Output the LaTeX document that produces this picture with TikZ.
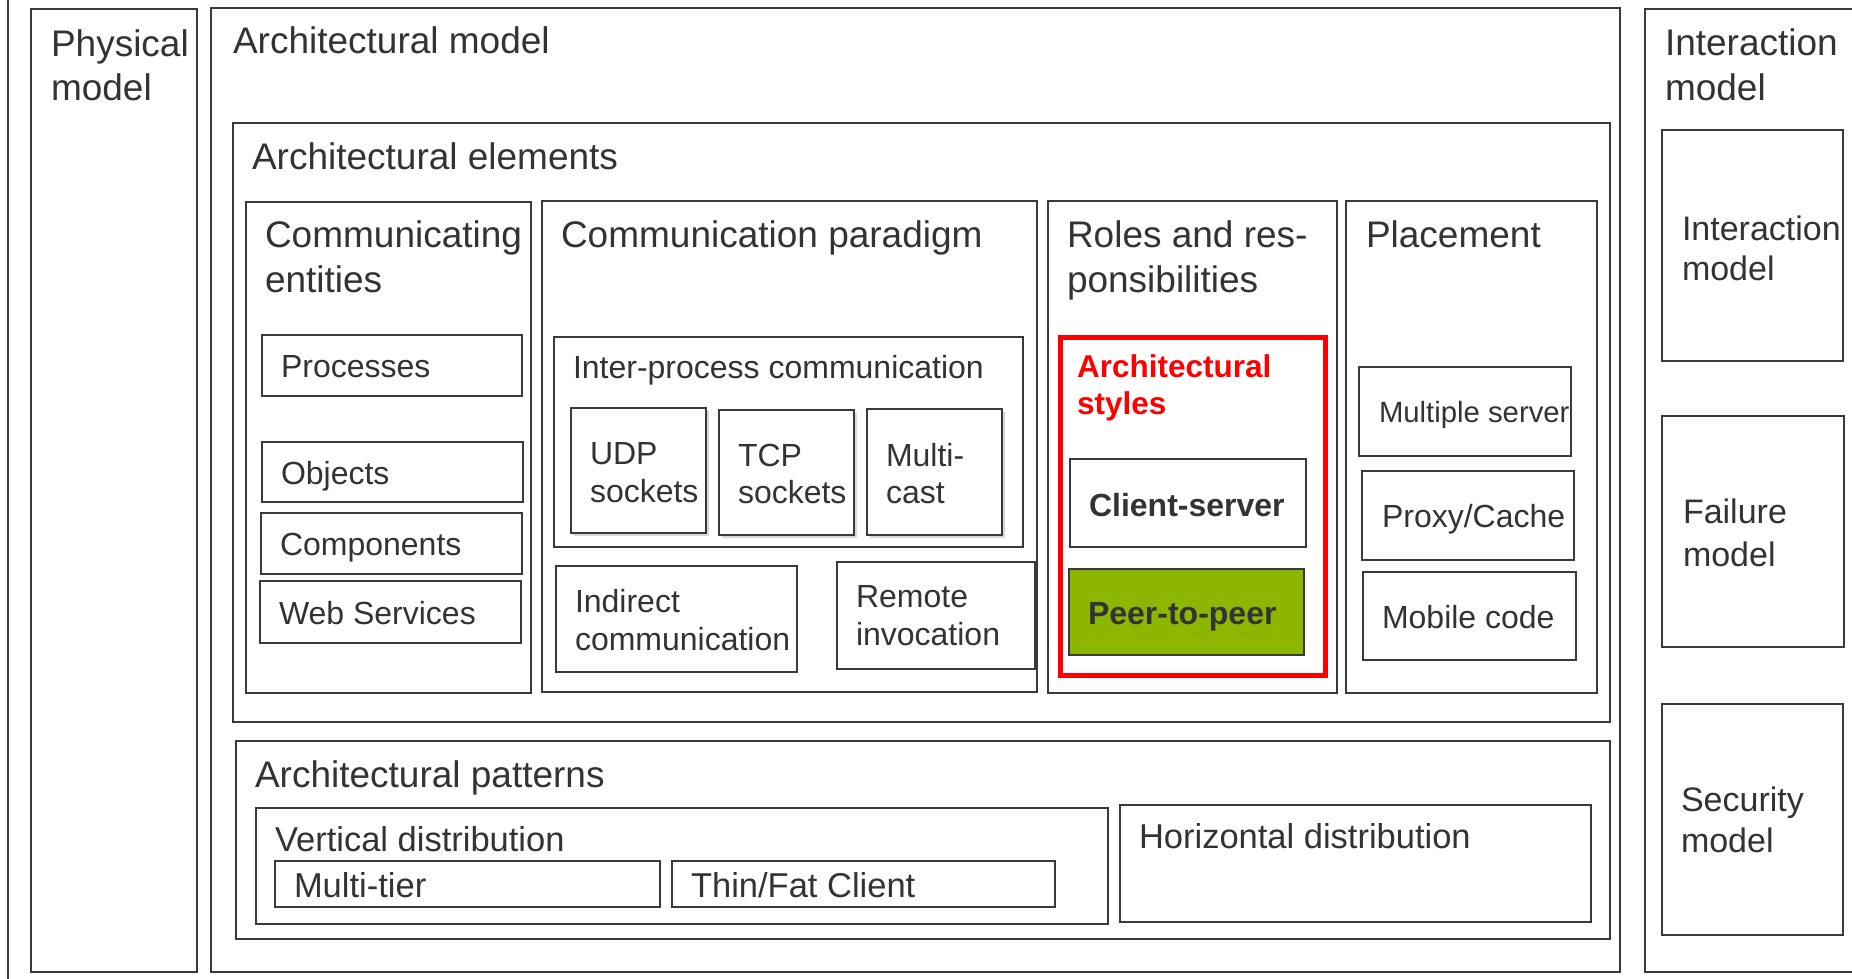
\documentclass[tikz,border=0pt]{standalone}
\usepackage{fontspec}
\setmainfont{Liberation Sans}
\usetikzlibrary{shadows}
\definecolor{lc}{HTML}{3A3A3A}
\definecolor{tc}{HTML}{333333}
\definecolor{ptpgreen}{HTML}{8DB600}
\definecolor{redc}{HTML}{FF0000}
\tikzset{
  box/.style={draw=lc, line width=1.8pt, inner sep=0pt, outer sep=0pt, anchor=north west},
  shbox/.style={box, fill=white, drop shadow={shadow xshift=3pt, shadow yshift=-3pt, opacity=0.3}},
  txt/.style={anchor=base west, inner sep=0pt, outer sep=0pt, text=tc},
  fL/.style={txt, font=\fontsize{37}{44}\selectfont},
  fM/.style={txt, font=\fontsize{32}{38}\selectfont},
  fV/.style={txt, font=\fontsize{34.5}{41}\selectfont},
  fI/.style={txt, font=\fontsize{34}{41}\selectfont},
  fS/.style={txt, font=\fontsize{29.3}{35}\selectfont},
  fB/.style={txt, font=\fontsize{32}{38}\selectfont\bfseries},
  fR/.style={txt, text=redc, font=\fontsize{31.5}{38}\selectfont\bfseries},
}
\begin{document}
\begin{tikzpicture}[x=1pt, y=-1pt]
\useasboundingbox (0,0) rectangle (1852,979);
\fill[white] (0,0) rectangle (1852,979);
\draw[lc, line width=1.8pt] (8,-2) -- (8,981);

% physical model
\node[box, minimum width=166pt, minimum height=963pt] (phys) at (31,9) {};
\node[fL] (physA) at (51,57) {Physical};
\node[fL] (physB) at (51,101) {model};

% architectural model
\node[box, minimum width=1409pt, minimum height=964pt] (archm) at (211,8) {};
\node[fL] (archmT) at (233,54) {Architectural model};

% interaction model column
\node[box, minimum width=240pt, minimum height=963pt] (interout) at (1645,9) {};
\node[fL] (interoutA) at (1665,56) {Interaction};
\node[fL] (interoutB) at (1665,101) {model};
\node[box, minimum width=181pt, minimum height=231pt] (inter) at (1662,130) {};
\node[fI] (interA) at (1682,240) {Interaction};
\node[fI] (interB) at (1682,280) {model};
\node[box, minimum width=182pt, minimum height=231pt] (fail) at (1662,416) {};
\node[fI] (failA) at (1683,523) {Failure};
\node[fI] (failB) at (1683,566) {model};
\node[box, minimum width=181pt, minimum height=231pt] (sec) at (1662,704) {};
\node[fI] (secA) at (1681,811) {Security};
\node[fI] (secB) at (1681,852) {model};

% architectural elements
\node[box, minimum width=1377pt, minimum height=599pt] (elems) at (233,123) {};
\node[fL] (elemsT) at (252,169) {Architectural elements};

% communicating entities
\node[box, minimum width=285pt, minimum height=491pt] (ce) at (246,202) {};
\node[fL] (ceA) at (265,247) {Communicating};
\node[fL] (ceB) at (265,292) {entities};
\node[box, minimum width=260pt, minimum height=61pt] (proc) at (262,335) {};
\node[fM] (procT) at (281,377) {Processes};
\node[box, minimum width=261pt, minimum height=60pt] (obj) at (262,442) {};
\node[fM] (objT) at (281,484) {Objects};
\node[box, minimum width=261pt, minimum height=61pt] (comp) at (261,513) {};
\node[fM] (compT) at (280,555) {Components};
\node[box, minimum width=261pt, minimum height=62pt] (web) at (260,581) {};
\node[fM] (webT) at (279,624) {Web Services};

% communication paradigm
\node[box, minimum width=495pt, minimum height=491pt] (para) at (542,201) {};
\node[fL] (paraT) at (561,247) {Communication paradigm};
\node[box, minimum width=469pt, minimum height=210pt] (ipc) at (554,337) {};
\node[fM] (ipcT) at (573,378) {Inter-process communication};
\node[shbox, minimum width=135pt, minimum height=125pt] (udp) at (571,408) {};
\node[fM] (udpA) at (590,464) {UDP};
\node[fM] (udpB) at (590,502) {sockets};
\node[shbox, minimum width=135pt, minimum height=125pt] (tcp) at (719,410) {};
\node[fM] (tcpA) at (738,466) {TCP};
\node[fM] (tcpB) at (738,503) {sockets};
\node[shbox, minimum width=135pt, minimum height=126pt] (mcast) at (867,409) {};
\node[fM] (mcastA) at (886,466) {Multi-};
\node[fM] (mcastB) at (886,503) {cast};
\node[box, minimum width=241pt, minimum height=106pt] (indir) at (556,566) {};
\node[fM] (indirA) at (575,612) {Indirect};
\node[fM] (indirB) at (575,650) {communication};
\node[box, minimum width=198pt, minimum height=107pt] (remote) at (837,562) {};
\node[fM] (remoteA) at (856,607) {Remote};
\node[fM] (remoteB) at (856,645) {invocation};

% roles and responsibilities
\node[box, minimum width=289pt, minimum height=492pt] (roles) at (1048,201) {};
\node[fL] (rolesA) at (1067,247) {Roles and res-};
\node[fL] (rolesB) at (1067,292) {ponsibilities};
\node[draw=redc, line width=4.5pt, inner sep=0pt, anchor=north west, minimum width=265pt, minimum height=338pt] (styles) at (1058,335) {};
\node[fR] (stylesA) at (1077,377) {Architectural};
\node[fR] (stylesB) at (1077,414) {styles};
\node[box, minimum width=236pt, minimum height=88pt] (cs) at (1070,459) {};
\node[fB] (csT) at (1089,516) {Client-server};
\node[box, fill=ptpgreen, minimum width=235pt, minimum height=86pt] (ptp) at (1069,569) {};
\node[fB] (ptpT) at (1088,624) {Peer-to-peer};

% placement
\node[box, minimum width=251pt, minimum height=492pt] (place) at (1346,201) {};
\node[fL] (placeT) at (1366,247) {Placement};
\node[box, minimum width=212pt, minimum height=89pt] (ms) at (1359,367) {};
\node[fS] (msT) at (1379,422) {Multiple server};
\node[box, minimum width=212pt, minimum height=89pt] (proxy) at (1362,471) {};
\node[fM] (proxyT) at (1382,527) {Proxy/Cache};
\node[box, minimum width=213pt, minimum height=88pt] (mobile) at (1363,572) {};
\node[fM] (mobileT) at (1382,628) {Mobile code};

% architectural patterns
\node[box, minimum width=1374pt, minimum height=198pt] (pat) at (236,741) {};
\node[fL] (patT) at (255,787) {Architectural patterns};
\node[box, minimum width=852pt, minimum height=116pt] (vert) at (256,808) {};
\node[fV] (vertT) at (275,851) {Vertical distribution};
\node[box, minimum width=385pt, minimum height=46pt] (mt) at (275,861) {};
\node[fV] (mtT) at (294,897) {Multi-tier};
\node[box, minimum width=383pt, minimum height=46pt] (tf) at (672,861) {};
\node[fV] (tfT) at (691,897) {Thin/Fat Client};
\node[box, minimum width=471pt, minimum height=117pt] (horiz) at (1120,805) {};
\node[fV] (horizT) at (1139,848) {Horizontal distribution};
\end{tikzpicture}
\end{document}
